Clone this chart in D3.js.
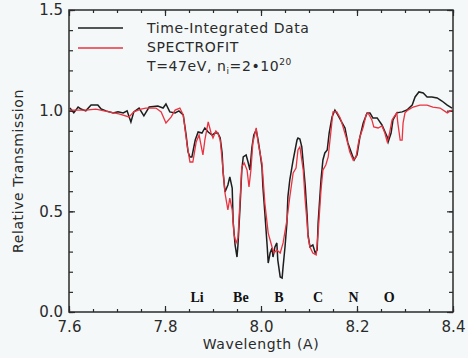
<!DOCTYPE html>
<html>
<head>
<meta charset="utf-8">
<script src="https://cdn.jsdelivr.net/npm/d3@7"></script>
<style>
  html, body { margin: 0; padding: 0; background: #f4f8f8; }
  svg { display: block; }
  .tick text { font-family: "DejaVu Sans", sans-serif; font-size: 15px; fill: #2a2a2a; }
  .title { font-family: "DejaVu Sans", sans-serif; font-size: 14px; fill: #2a2a2a; letter-spacing: 0.6px; }
  .legend { font-family: "DejaVu Sans", sans-serif; font-size: 14px; fill: #2a2a2a; letter-spacing: 0.6px; }
  .elem { font-family: "Liberation Serif", serif; font-size: 14px; font-weight: bold; fill: #111; }
</style>
</head>
<body>
<svg id="chart" width="468" height="358"></svg>
<script>
// time-integrated data (black)
const dataWl = [7.602, 7.610, 7.619, 7.625, 7.635, 7.646, 7.660, 7.667, 7.677, 7.692,
  7.702, 7.713, 7.721, 7.729, 7.735, 7.746, 7.756, 7.767, 7.785, 7.796,
  7.802, 7.810, 7.821, 7.829, 7.838, 7.844, 7.848, 7.852, 7.856, 7.863,
  7.869, 7.877, 7.883, 7.890, 7.898, 7.904, 7.910, 7.915, 7.919, 7.921,
  7.925, 7.931, 7.935, 7.940, 7.942, 7.946, 7.950, 7.952, 7.956, 7.960,
  7.963, 7.969, 7.973, 7.977, 7.981, 7.985, 7.990, 7.994, 7.998, 8.002,
  8.004, 8.008, 8.013, 8.015, 8.019, 8.023, 8.025, 8.029, 8.033, 8.035,
  8.040, 8.044, 8.046, 8.050, 8.054, 8.056, 8.060, 8.067, 8.075, 8.077,
  8.081, 8.085, 8.092, 8.096, 8.098, 8.102, 8.108, 8.113, 8.117, 8.119,
  8.125, 8.129, 8.133, 8.138, 8.142, 8.148, 8.154, 8.160, 8.169, 8.175,
  8.181, 8.190, 8.194, 8.200, 8.206, 8.213, 8.221, 8.227, 8.233, 8.242,
  8.252, 8.263, 8.265, 8.271, 8.275, 8.283, 8.294, 8.304, 8.315, 8.321,
  8.329, 8.338, 8.346, 8.356, 8.367, 8.377, 8.388, 8.398];
const dataT = [1.013, 0.989, 1.018, 1.008, 0.999, 1.028, 1.028, 1.008, 0.999, 0.989,
  0.994, 0.989, 0.999, 0.944, 0.994, 1.013, 0.974, 1.018, 1.023, 1.013,
  1.033, 0.994, 0.989, 0.999, 0.979, 0.879, 0.795, 0.770, 0.770, 0.854,
  0.894, 0.889, 0.914, 0.894, 0.879, 0.889, 0.889, 0.864, 0.790, 0.695,
  0.596, 0.631, 0.671, 0.616, 0.447, 0.333, 0.273, 0.333, 0.507, 0.705,
  0.770, 0.780, 0.745, 0.705, 0.815, 0.879, 0.904, 0.854, 0.790, 0.720,
  0.621, 0.492, 0.323, 0.243, 0.293, 0.318, 0.273, 0.323, 0.343, 0.258,
  0.174, 0.169, 0.224, 0.323, 0.442, 0.571, 0.656, 0.755, 0.854, 0.864,
  0.859, 0.820, 0.631, 0.482, 0.383, 0.323, 0.333, 0.293, 0.308, 0.442,
  0.656, 0.755, 0.790, 0.805, 0.889, 0.969, 1.003, 0.979, 0.939, 0.914,
  0.840, 0.780, 0.755, 0.780, 0.869, 0.939, 0.989, 0.989, 0.964, 0.964,
  0.929, 0.869, 0.845, 0.889, 0.954, 0.989, 0.994, 1.003, 1.028, 1.068,
  1.093, 1.088, 1.068, 1.068, 1.063, 1.048, 1.028, 1.013];

// SPECTROFIT (red)
const fitWl = [7.602, 7.635, 7.656, 7.683, 7.704, 7.725, 7.735, 7.750, 7.760, 7.781,
  7.792, 7.802, 7.813, 7.821, 7.831, 7.838, 7.846, 7.852, 7.858, 7.865,
  7.871, 7.879, 7.883, 7.890, 7.896, 7.900, 7.906, 7.910, 7.915, 7.919,
  7.925, 7.931, 7.935, 7.940, 7.944, 7.948, 7.952, 7.956, 7.960, 7.965,
  7.971, 7.975, 7.979, 7.983, 7.990, 7.994, 8.002, 8.008, 8.015, 8.023,
  8.027, 8.033, 8.040, 8.046, 8.054, 8.060, 8.067, 8.073, 8.077, 8.081,
  8.088, 8.092, 8.096, 8.098, 8.102, 8.108, 8.115, 8.119, 8.125, 8.129,
  8.135, 8.140, 8.146, 8.150, 8.158, 8.165, 8.171, 8.179, 8.185, 8.192,
  8.198, 8.204, 8.213, 8.219, 8.223, 8.231, 8.235, 8.244, 8.252, 8.258,
  8.263, 8.267, 8.273, 8.277, 8.283, 8.285, 8.290, 8.294, 8.296, 8.300,
  8.306, 8.317, 8.331, 8.346, 8.358, 8.373, 8.388, 8.398];
const fitT = [1.003, 1.003, 1.008, 0.994, 0.984, 0.969, 0.994, 1.008, 1.013, 1.013,
  0.994, 0.939, 0.969, 1.003, 1.013, 0.979, 0.830, 0.745, 0.745, 0.845,
  0.879, 0.780, 0.854, 0.944, 0.889, 0.864, 0.899, 0.889, 0.854, 0.755,
  0.591, 0.507, 0.566, 0.507, 0.383, 0.343, 0.368, 0.541, 0.720, 0.740,
  0.705, 0.621, 0.705, 0.840, 0.914, 0.840, 0.740, 0.541, 0.392, 0.323,
  0.293, 0.308, 0.293, 0.343, 0.457, 0.571, 0.691, 0.715, 0.805, 0.820,
  0.705, 0.556, 0.442, 0.373, 0.323, 0.293, 0.283, 0.392, 0.606, 0.705,
  0.730, 0.770, 0.904, 0.994, 0.994, 0.964, 0.919, 0.854, 0.795, 0.755,
  0.770, 0.854, 0.919, 0.979, 0.989, 0.954, 0.919, 0.914, 0.924, 0.889,
  0.845, 0.879, 0.954, 0.969, 0.989, 0.939, 0.854, 0.854, 0.939, 0.989,
  1.003, 1.018, 1.028, 1.028, 1.018, 1.013, 0.989, 1.003];

// element edge labels
const elemNames = ["Li", "Be", "B", "C", "N", "O"];
const elemWl = [7.867, 7.958, 8.0375, 8.119, 8.193, 8.267];
const elemT = 0.05;

const xMajor = [7.6, 7.8, 8.0, 8.2, 8.4];
const yMajor = [0.0, 0.5, 1.0, 1.5];

const svg = d3.select('#chart');
const mLeft = 69, mRight = 453, mTop = 10, mBottom = 312;

const x = d3.scaleLinear().domain([7.6, 8.4]).range([mLeft, mRight]);
const y = d3.scaleLinear().domain([0, 1.5]).range([mBottom, mTop]);

const xMinor = d3.range(7.6, 8.4001, 0.05);
const yMinor = d3.range(0, 1.5001, 0.1);

function styleAxis(g) {
  g.select('.domain').remove();
  g.selectAll('.tick line').attr('stroke', '#2a2a2a').attr('stroke-width', 1.2);
}

// minor ticks all sides
svg.append('g').attr('transform', `translate(0,${mBottom})`)
  .call(d3.axisBottom(x).tickValues(xMinor).tickSize(-3).tickFormat('')).call(styleAxis);
svg.append('g').attr('transform', `translate(0,${mTop})`)
  .call(d3.axisTop(x).tickValues(xMinor).tickSize(-3).tickFormat('')).call(styleAxis);
svg.append('g').attr('transform', `translate(${mLeft},0)`)
  .call(d3.axisLeft(y).tickValues(yMinor).tickSize(-4).tickFormat('')).call(styleAxis);
svg.append('g').attr('transform', `translate(${mRight},0)`)
  .call(d3.axisRight(y).tickValues(yMinor).tickSize(-4).tickFormat('')).call(styleAxis);

// major ticks + labels
svg.append('g').attr('transform', `translate(0,${mBottom})`)
  .call(d3.axisBottom(x).tickValues(xMajor).tickSize(-6).tickPadding(9).tickFormat(d3.format('.1f')))
  .call(styleAxis);
svg.append('g').attr('transform', `translate(0,${mTop})`)
  .call(d3.axisTop(x).tickValues(xMajor).tickSize(-6).tickFormat('')).call(styleAxis);
svg.append('g').attr('transform', `translate(${mLeft},0)`)
  .call(d3.axisLeft(y).tickValues(yMajor).tickSize(-6).tickPadding(6).tickFormat(d3.format('.1f')))
  .call(styleAxis);
svg.append('g').attr('transform', `translate(${mRight},0)`)
  .call(d3.axisRight(y).tickValues(yMajor).tickSize(-6).tickFormat('')).call(styleAxis);

// frame
svg.append('rect')
  .attr('x', mLeft).attr('y', mTop)
  .attr('width', mRight - mLeft).attr('height', mBottom - mTop)
  .attr('fill', 'none').attr('stroke', '#2a2a2a').attr('stroke-width', 1.5);

// curves
const line = d3.line()
  .x(d => x(d[0]))
  .y(d => y(d[1]));

svg.append('path')
  .datum(d3.zip(dataWl, dataT))
  .attr('d', line)
  .attr('fill', 'none')
  .attr('stroke', '#1e1e1e')
  .attr('stroke-width', 1.5);

svg.append('path')
  .datum(d3.zip(fitWl, fitT))
  .attr('d', line)
  .attr('fill', 'none')
  .attr('stroke', '#ea3340')
  .attr('stroke-width', 1.3);

// element labels
svg.selectAll('.elem')
  .data(d3.zip(elemNames, elemWl))
  .join('text')
  .attr('class', 'elem')
  .attr('x', d => x(d[1]))
  .attr('y', y(elemT))
  .attr('text-anchor', 'middle')
  .text(d => d[0]);

// legend
const lg = svg.append('g');
lg.append('line').attr('x1', 78).attr('x2', 123).attr('y1', 28).attr('y2', 28)
  .attr('stroke', '#1e1e1e').attr('stroke-width', 1.5);
lg.append('line').attr('x1', 78).attr('x2', 123).attr('y1', 48).attr('y2', 48)
  .attr('stroke', '#ea3340').attr('stroke-width', 1.3);
lg.append('text').attr('class', 'legend').attr('x', 147).attr('y', 33).text('Time-Integrated Data');
lg.append('text').attr('class', 'legend').attr('x', 147).attr('y', 52).text('SPECTROFIT');
const t3 = lg.append('text').attr('class', 'legend').attr('x', 147).attr('y', 71);
t3.append('tspan').text('T=47eV, n');
t3.append('tspan').attr('font-size', '9px').attr('dy', 3).text('i');
t3.append('tspan').attr('dy', -3).text('=2\u202210');
t3.append('tspan').attr('font-size', '9px').attr('dy', -6).text('20');

// axis titles
svg.append('text').attr('class', 'title')
  .attr('x', 261).attr('y', 349)
  .attr('text-anchor', 'middle')
  .text('Wavelength (A)');
svg.append('text').attr('class', 'title')
  .attr('transform', `translate(23,${(mTop + mBottom) / 2 + 10}) rotate(-90)`)
  .attr('text-anchor', 'middle')
  .text('Relative Transmission');
</script>
</body>
</html>
